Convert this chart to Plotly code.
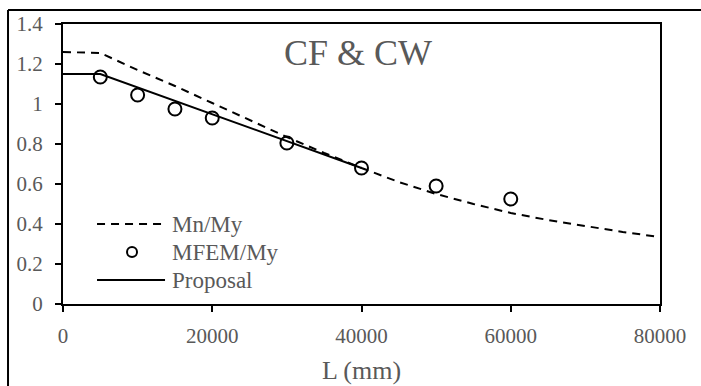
import plotly.graph_objects as go

# Data
L_mn = [0, 5000, 10000, 15000, 20000, 25000, 30000, 35000, 40000, 45000, 50000,
        55000, 60000, 65000, 70000, 75000, 80000]
Mn_My = [1.26, 1.255, 1.17, 1.09, 1.005, 0.92, 0.835, 0.755, 0.68, 0.61, 0.55,
         0.50, 0.455, 0.42, 0.39, 0.36, 0.335]

L_fem = [5000, 10000, 15000, 20000, 30000, 40000, 50000, 60000]
MFEM_My = [1.135, 1.045, 0.975, 0.93, 0.805, 0.68, 0.59, 0.525]

L_prop = [0, 5000, 40000]
Proposal = [1.15, 1.15, 0.68]

x_ticks = [0, 20000, 40000, 60000, 80000]
y_ticks = [0, 0.2, 0.4, 0.6, 0.8, 1, 1.2, 1.4]
series_names = ["Mn/My", "MFEM/My", "Proposal"]

FONT = "Liberation Serif, Times New Roman, serif"
GREY = "#595959"
DASH = "8px,6px"

fig = go.Figure()
fig.add_trace(go.Scatter(x=L_mn, y=Mn_My, mode="lines", name=series_names[0],
                         line=dict(color="black", width=2, dash=DASH)))
fig.add_trace(go.Scatter(x=L_fem, y=MFEM_My, mode="markers", name=series_names[1],
                         marker=dict(symbol="circle-open", size=13, color="black",
                                     line=dict(width=2, color="black"))))
fig.add_trace(go.Scatter(x=L_prop, y=Proposal, mode="lines", name=series_names[2],
                         line=dict(color="black", width=2)))

# custom legend (Excel style: long line keys)
leg_y = [0.2857, 0.1857, 0.0857]
shapes = [
    dict(type="line", xref="paper", yref="paper", x0=-0.0921, x1=1.2, y0=1.05, y1=1.05,
         line=dict(color="black", width=2)),
    dict(type="line", xref="paper", yref="paper", x0=-0.0921, x1=-0.0921, y0=1.05, y1=-0.5,
         line=dict(color="black", width=2)),
    dict(type="line", xref="paper", yref="paper", x0=0.057, x1=0.1709, y0=leg_y[0], y1=leg_y[0],
         line=dict(color="black", width=2, dash=DASH)),
    dict(type="circle", xref="paper", yref="paper", xsizemode="pixel", ysizemode="pixel",
         xanchor=0.1156, yanchor=leg_y[1], x0=-5, x1=5, y0=-5, y1=5,
         line=dict(color="black", width=2)),
    dict(type="line", xref="paper", yref="paper", x0=0.057, x1=0.1709, y0=leg_y[2], y1=leg_y[2],
         line=dict(color="black", width=2)),
]
annotations = [dict(text="CF & CW", xref="paper", yref="paper", x=0.494, y=0.896,
                    xanchor="center", yanchor="middle", showarrow=False,
                    font=dict(size=36, color=GREY, family=FONT))]
for name, yy in zip(series_names, leg_y):
    annotations.append(dict(text=name, xref="paper", yref="paper", x=0.1790, y=yy,
                            xanchor="left", yanchor="middle", showarrow=False,
                            font=dict(size=23, color=GREY, family=FONT)))

fig.update_layout(
    width=701, height=386,
    margin=dict(l=63, r=41, t=24, b=82),
    paper_bgcolor="white", plot_bgcolor="white",
    font=dict(family=FONT, color=GREY, size=21),
    showlegend=False,
    xaxis=dict(range=[0, 80000], tickvals=x_ticks, ticktext=[str(v) for v in x_ticks],
               showgrid=False, zeroline=False, showline=True, linecolor="black",
               linewidth=2, mirror=True, ticks="outside", ticklen=6, tickwidth=2,
               tickcolor="black", ticklabelstandoff=6, automargin=False,
               tickfont=dict(size=21, color=GREY, family=FONT),
               title=dict(text="L (mm)", font=dict(size=26, color=GREY, family=FONT),
                          standoff=14)),
    yaxis=dict(range=[0, 1.4], tickvals=y_ticks, ticktext=[f"{v:g}" for v in y_ticks],
               showgrid=False, zeroline=False, showline=True, linecolor="black",
               linewidth=2, mirror=True, ticks="outside", ticklen=6, tickwidth=2,
               tickcolor="black", ticklabelstandoff=8, automargin=False,
               tickfont=dict(size=21, color=GREY, family=FONT)),
    annotations=annotations,
    shapes=shapes,
)

fig.write_html("out.html")
